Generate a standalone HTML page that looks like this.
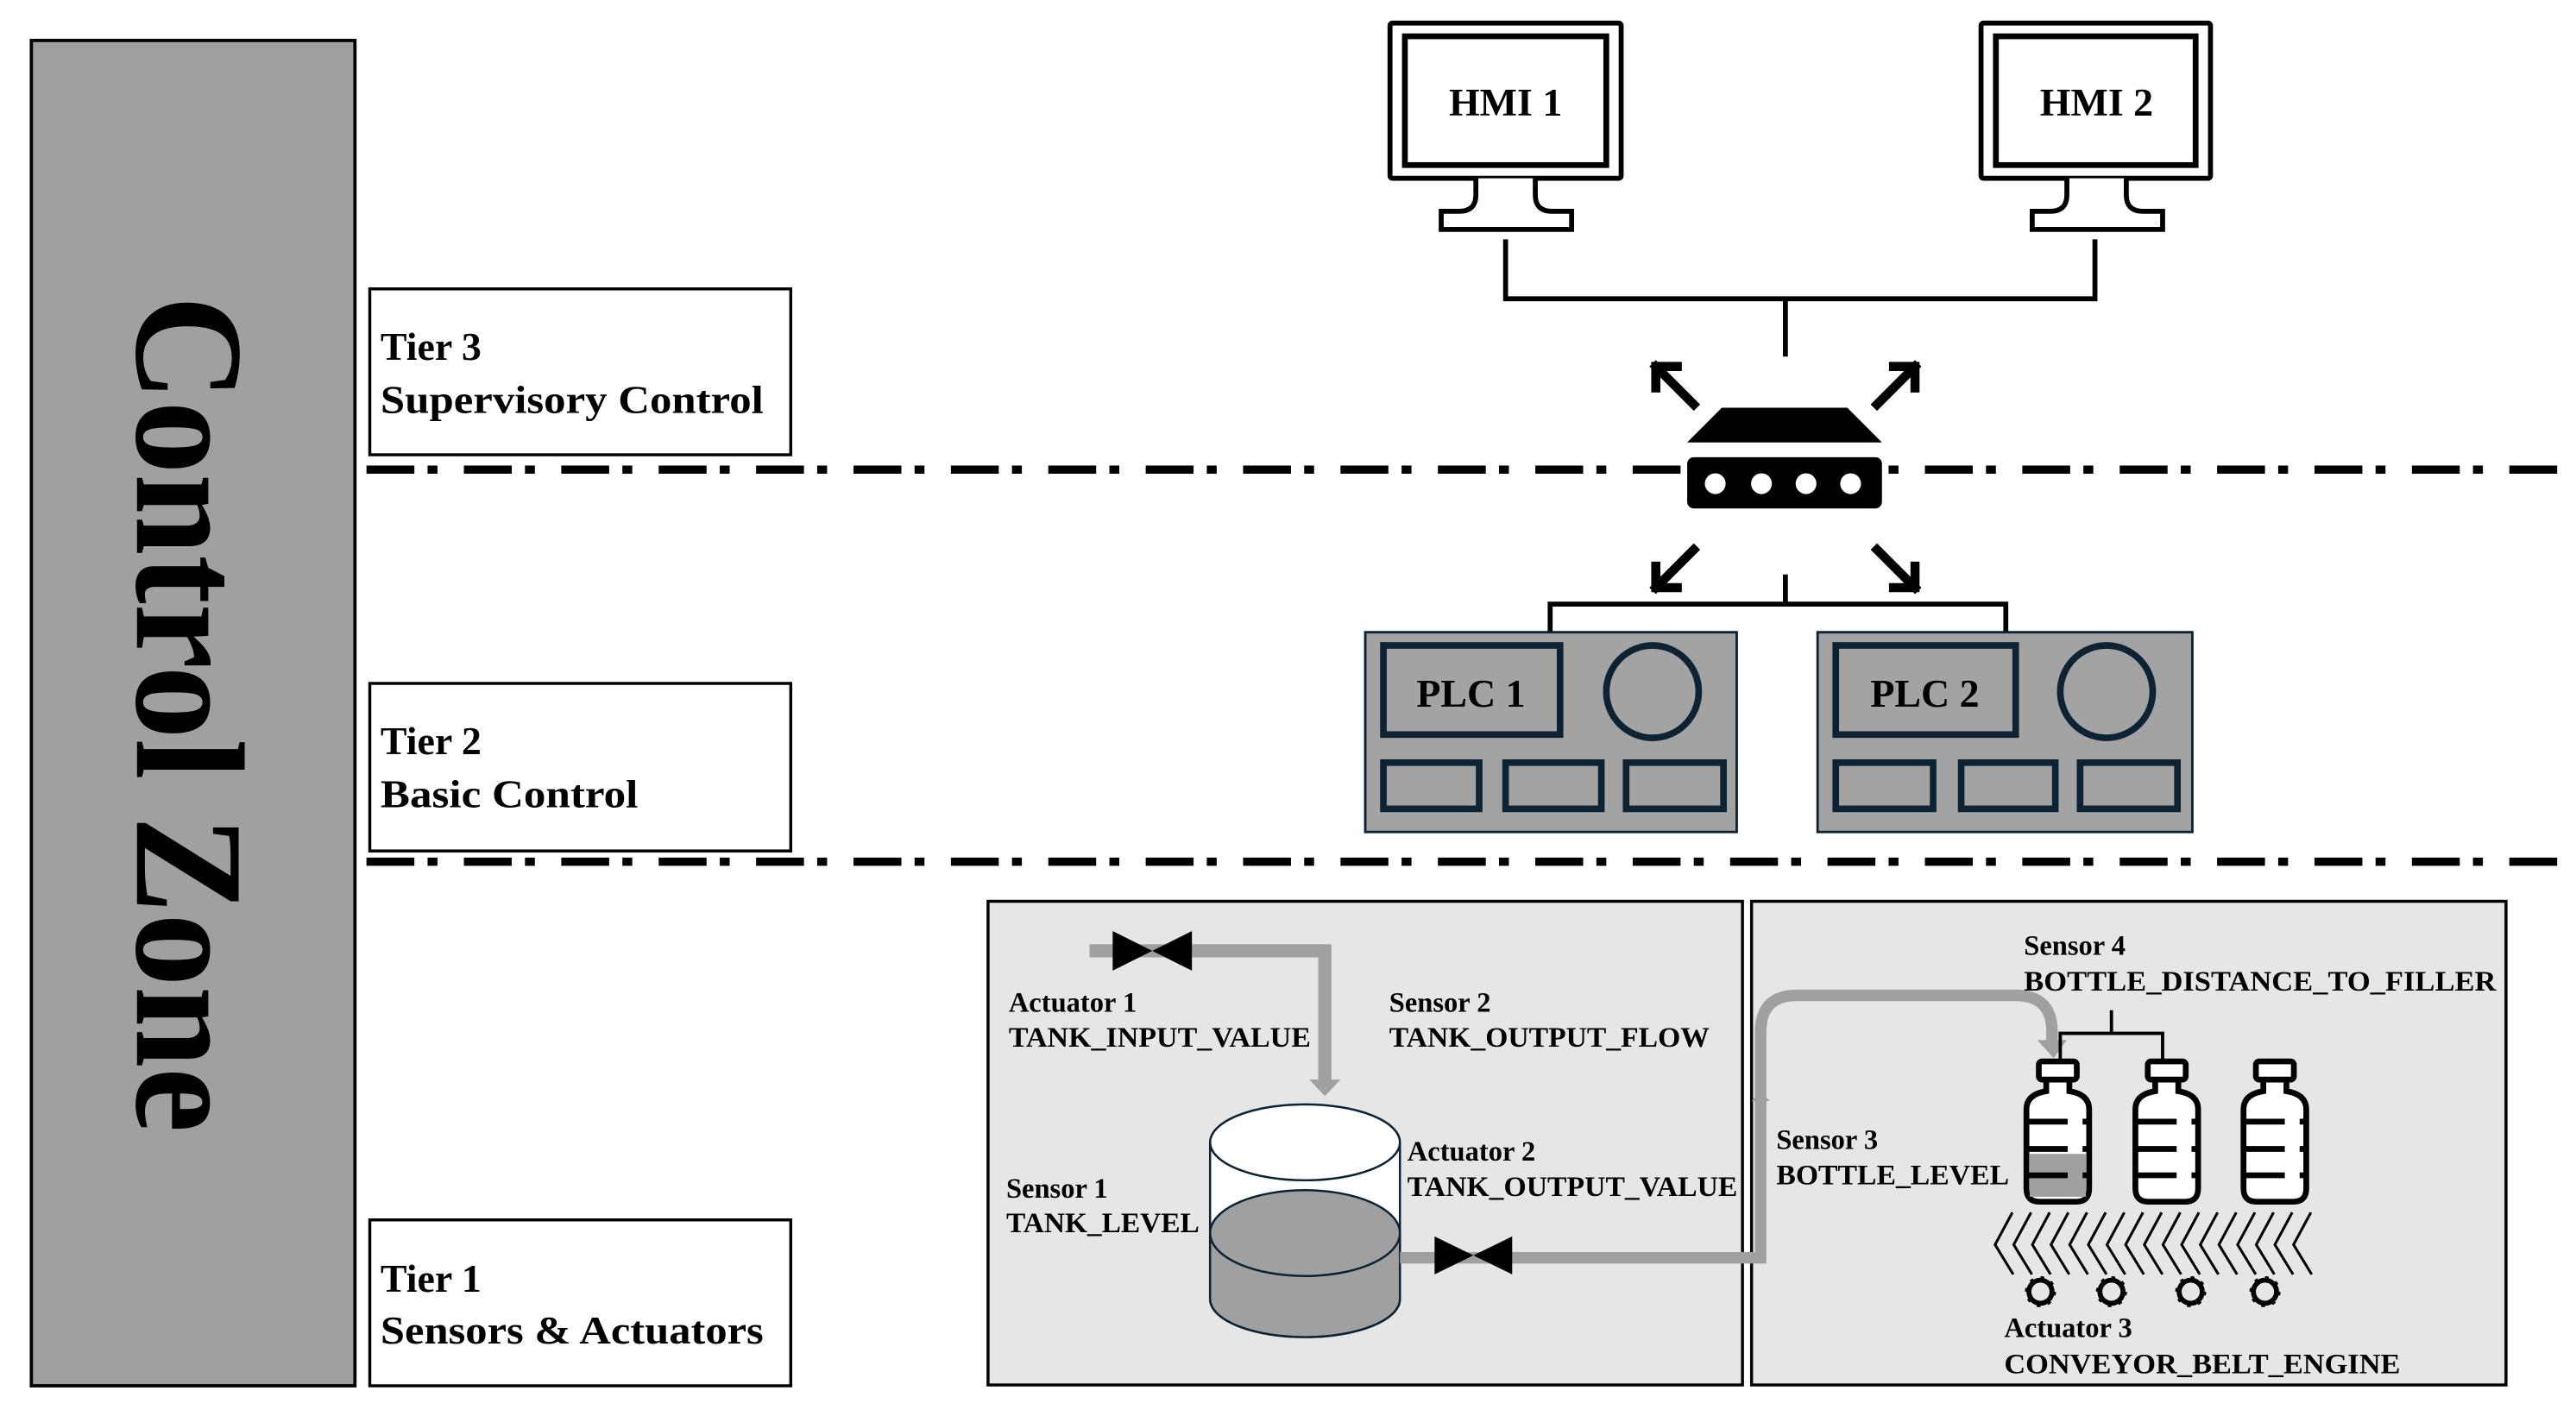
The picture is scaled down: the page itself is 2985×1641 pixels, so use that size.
<!DOCTYPE html>
<html><head><meta charset="utf-8"><style>
html,body{margin:0;padding:0;background:#fff;}
svg{display:block;}
text{font-family:"Liberation Serif",serif;font-weight:bold;fill:#000;}
</style></head><body>
<svg width="2985" height="1641" viewBox="0 0 1560.4 857.8" preserveAspectRatio="none" xmlns="http://www.w3.org/2000/svg">
<rect x="19" y="24.5" width="196" height="815" fill="#a0a0a0" stroke="#000" stroke-width="2"/>
<text transform="translate(83,179) rotate(90)" font-size="94" textLength="507" lengthAdjust="spacingAndGlyphs">Control Zone</text>

<rect x="224" y="175" width="255" height="100.5" fill="#fff" stroke="#000" stroke-width="1.8"/>
<text x="230.5" y="218" font-size="24">Tier 3</text>
<text x="230.5" y="250" font-size="24" textLength="232" lengthAdjust="spacingAndGlyphs">Supervisory Control</text>
<rect x="224" y="414" width="255" height="101.5" fill="#fff" stroke="#000" stroke-width="1.8"/>
<text x="230.5" y="457" font-size="24">Tier 2</text>
<text x="230.5" y="489" font-size="24" textLength="156" lengthAdjust="spacingAndGlyphs">Basic Control</text>
<rect x="224" y="739" width="255" height="100.5" fill="#fff" stroke="#000" stroke-width="1.8"/>
<text x="230.5" y="782.5" font-size="24">Tier 1</text>
<text x="230.5" y="814" font-size="24" textLength="232" lengthAdjust="spacingAndGlyphs">Sensors &amp; Actuators</text>

<line x1="222" y1="284.5" x2="1552" y2="284.5" stroke="#000" stroke-width="5" stroke-dasharray="29 8 6 16"/>
<line x1="222" y1="522" x2="1552" y2="522" stroke="#000" stroke-width="5" stroke-dasharray="29 8 6 16"/>

<g fill="#fff" stroke="#000">
<rect x="842" y="14" width="140" height="94" stroke-width="3" rx="1.5"/>
<rect x="851" y="22" width="122" height="78" stroke-width="3.5"/>
<path d="M894,108 V118 Q894,128 884,128 H873 V139 H952 V128 H940 Q930,128 930,118 V108" stroke-width="3"/>
<rect x="1200" y="14" width="139" height="94" stroke-width="3" rx="1.5"/>
<rect x="1209" y="22" width="121" height="78" stroke-width="3.5"/>
<path d="M1252,108 V118 Q1252,128 1242,128 H1231 V139 H1310 V128 H1298 Q1288,128 1288,118 V108" stroke-width="3"/>
</g>
<text x="912" y="70" font-size="24" text-anchor="middle">HMI 1</text>
<text x="1270" y="70" font-size="24" text-anchor="middle">HMI 2</text>

<path d="M912,145 V181 H1269 V145 M1081.5,181 V216" fill="none" stroke="#000" stroke-width="3"/>

<polygon points="1043,247 1119,247 1140,268 1022,268" fill="#000"/>
<rect x="1022" y="277" width="118" height="31" rx="4" fill="#000"/>
<g fill="#fff"><circle cx="1039" cy="293" r="6.3"/><circle cx="1067" cy="293" r="6.3"/><circle cx="1094" cy="293" r="6.3"/><circle cx="1121" cy="293" r="6.3"/></g>
<g fill="none" stroke="#000" stroke-width="5.5" stroke-linecap="square">
<path d="M1026,245 L1003,222 M1003,235 V222 H1016"/>
<path d="M1137,245 L1160,222 M1147,222 H1160 V235"/>
<path d="M1026,333 L1003,356 M1003,343 V356 H1016"/>
<path d="M1137,333 L1160,356 M1160,343 V356 H1147"/>
</g>
<path d="M1081.5,348 V366 M939,384 V366 H1215 V384" fill="none" stroke="#000" stroke-width="3"/>

<g stroke="#0d2233" fill="none">
<rect x="827" y="383" width="225" height="121" fill="#a3a3a3" stroke-width="1.5"/>
<rect x="838" y="391" width="107" height="54" stroke-width="4"/>
<circle cx="1001" cy="419" r="28" stroke-width="4"/>
<rect x="838" y="462" width="58" height="28" stroke-width="4"/>
<rect x="912" y="462" width="58" height="28" stroke-width="4"/>
<rect x="985" y="462" width="59" height="28" stroke-width="4"/>
<rect x="1101" y="383" width="227" height="121" fill="#a3a3a3" stroke-width="1.5"/>
<rect x="1112" y="391" width="109" height="54" stroke-width="4"/>
<circle cx="1276" cy="419" r="28" stroke-width="4"/>
<rect x="1112" y="462" width="59" height="28" stroke-width="4"/>
<rect x="1188" y="462" width="57" height="28" stroke-width="4"/>
<rect x="1260" y="462" width="59" height="28" stroke-width="4"/>
</g>
<text x="891" y="428" font-size="24" text-anchor="middle">PLC 1</text>
<text x="1166" y="428" font-size="24" text-anchor="middle">PLC 2</text>

<rect x="598.5" y="546" width="457" height="293" fill="#e6e6e6" stroke="#000" stroke-width="1.8"/>
<rect x="1061" y="546" width="457" height="293" fill="#e6e6e6" stroke="#000" stroke-width="1.8"/>

<path d="M660,576 H802.5 V655" fill="none" stroke="#a0a0a0" stroke-width="8"/>
<polygon points="793,654 812,654 802.5,664" fill="#a0a0a0"/>
<polygon points="674,564 674,588 722,564 722,588" fill="#000"/>

<path d="M733,692 V787 A57.5,23 0 0 0 848,787 V692" fill="#fff" stroke="#0d2233" stroke-width="1.3"/>
<path d="M733,747 V787 A57.5,23 0 0 0 848,787 V747 Z" fill="#a0a0a0" stroke="none"/>
<path d="M733,747 V787 A57.5,23 0 0 0 848,787 V747" fill="none" stroke="#0d2233" stroke-width="1.3"/>
<ellipse cx="790.5" cy="747" rx="57.5" ry="26" fill="#a0a0a0" stroke="#0d2233" stroke-width="1.3"/>
<ellipse cx="790.5" cy="692" rx="57.5" ry="23" fill="#fff" stroke="#0d2233" stroke-width="1.3"/>

<path d="M848,762 H1066.5 V625 Q1066.5,603 1088.5,603 H1221 Q1243,603 1243,625 V632" fill="none" stroke="#a0a0a0" stroke-width="7"/>
<polygon points="1234,630 1252,630 1244,641" fill="#a0a0a0"/>
<polygon points="1061,667 1072,667 1066.5,661" fill="#a0a0a0"/>
<polygon points="869,749 869,772 916,749 916,772" fill="#000"/>

<g font-size="17">
<text x="611" y="613">Actuator 1</text>
<text x="611" y="634" textLength="183" lengthAdjust="spacingAndGlyphs">TANK_INPUT_VALUE</text>
<text x="841.5" y="613">Sensor 2</text>
<text x="841.5" y="634" textLength="194" lengthAdjust="spacingAndGlyphs">TANK_OUTPUT_FLOW</text>
<text x="609.5" y="725.5">Sensor 1</text>
<text x="609.5" y="746.5" textLength="117" lengthAdjust="spacingAndGlyphs">TANK_LEVEL</text>
<text x="852.5" y="703">Actuator 2</text>
<text x="852.5" y="724.5" textLength="200" lengthAdjust="spacingAndGlyphs">TANK_OUTPUT_VALUE</text>
<text x="1076" y="696">Sensor 3</text>
<text x="1076" y="717.5" textLength="141" lengthAdjust="spacingAndGlyphs">BOTTLE_LEVEL</text>
<text x="1226" y="578.5">Sensor 4</text>
<text x="1226" y="600" textLength="286" lengthAdjust="spacingAndGlyphs">BOTTLE_DISTANCE_TO_FILLER</text>
<text x="1214" y="810">Actuator 3</text>
<text x="1214" y="832" textLength="240" lengthAdjust="spacingAndGlyphs">CONVEYOR_BELT_ENGINE</text>
</g>

<path d="M1279,612 V626 M1248,642 V626 H1310 V642" fill="none" stroke="#000" stroke-width="2"/>

<g stroke="#000" stroke-width="3.5">
<g transform="translate(1246.5,0)">
<path d="M-7,655 V661 Q-19,663 -19,672 V720 Q-19,728 -11,728 H11 Q19,728 19,720 V672 Q19,663 7,661 V655" fill="#fff"/>
<rect x="-17" y="699" width="34" height="26" fill="#a0a0a0" stroke="none"/>
<rect x="-11.5" y="643" width="23" height="11" rx="2" fill="#fff"/>
<path d="M-19,679.5 H6 M15,679.5 H19 M-19,696 H6 M15,696 H19 M-19,712 H6 M15,712 H19" fill="none"/>
</g>
<g transform="translate(1312.5,0)">
<path d="M-7,655 V661 Q-19,663 -19,672 V720 Q-19,728 -11,728 H11 Q19,728 19,720 V672 Q19,663 7,661 V655" fill="#fff"/>
<rect x="-11.5" y="643" width="23" height="11" rx="2" fill="#fff"/>
<path d="M-19,679.5 H6 M15,679.5 H19 M-19,696 H6 M15,696 H19 M-19,712 H6 M15,712 H19" fill="none"/>
</g>
<g transform="translate(1378,0)">
<path d="M-7,655 V661 Q-19,663 -19,672 V720 Q-19,728 -11,728 H11 Q19,728 19,720 V672 Q19,663 7,661 V655" fill="#fff"/>
<rect x="-11.5" y="643" width="23" height="11" rx="2" fill="#fff"/>
<path d="M-19,679.5 H6 M15,679.5 H19 M-19,696 H6 M15,696 H19 M-19,712 H6 M15,712 H19" fill="none"/>
</g>
</g>

<g fill="none" stroke="#000" stroke-width="1.6">
<polyline points="1219,734.5 1208.5,754 1219.5,772"/>
<polyline points="1230.3,734.5 1219.8,754 1230.8,772"/>
<polyline points="1241.6,734.5 1231.1,754 1242.1,772"/>
<polyline points="1252.9,734.5 1242.4,754 1253.4,772"/>
<polyline points="1264.2,734.5 1253.7,754 1264.7,772"/>
<polyline points="1275.5,734.5 1265,754 1276,772"/>
<polyline points="1286.8,734.5 1276.3,754 1287.3,772"/>
<polyline points="1298.1,734.5 1287.6,754 1298.6,772"/>
<polyline points="1309.4,734.5 1298.9,754 1309.9,772"/>
<polyline points="1320.7,734.5 1310.2,754 1321.2,772"/>
<polyline points="1332,734.5 1321.5,754 1332.5,772"/>
<polyline points="1343.3,734.5 1332.8,754 1343.8,772"/>
<polyline points="1354.6,734.5 1344.1,754 1355.1,772"/>
<polyline points="1365.9,734.5 1355.4,754 1366.4,772"/>
<polyline points="1377.2,734.5 1366.7,754 1377.7,772"/>
<polyline points="1388.5,734.5 1378,754 1389,772"/>
<polyline points="1399.8,734.5 1389.3,754 1400.3,772"/>
</g>

<g fill="none" stroke="#000">
<circle cx="1236" cy="782.5" r="7" stroke-width="3"/><circle cx="1236" cy="782.5" r="8.6" stroke-width="1.6" stroke-dasharray="2.2 4.55"/>
<circle cx="1279" cy="782.5" r="7" stroke-width="3"/><circle cx="1279" cy="782.5" r="8.6" stroke-width="1.6" stroke-dasharray="2.2 4.55"/>
<circle cx="1327" cy="782.5" r="7" stroke-width="3"/><circle cx="1327" cy="782.5" r="8.6" stroke-width="1.6" stroke-dasharray="2.2 4.55"/>
<circle cx="1372" cy="782.5" r="7" stroke-width="3"/><circle cx="1372" cy="782.5" r="8.6" stroke-width="1.6" stroke-dasharray="2.2 4.55"/>
</g>
</svg>
</body></html>
